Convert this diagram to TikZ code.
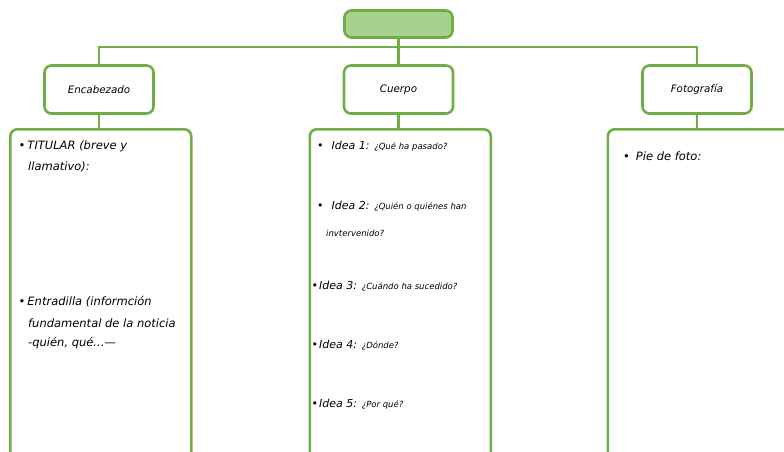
\documentclass[tikz,border=0pt]{standalone}
\usepackage{fontspec}
\setmainfont{DejaVu Sans}
\definecolor{gline}{HTML}{70AD47}
\definecolor{gfill}{HTML}{A9D18E}
\newcommand\qsmall{\fontsize{8.5}{10}\selectfont}
\begin{document}
\begin{tikzpicture}[x=1pt,y=-1pt,
  box/.style={draw=gline,line width=2.6pt,rounded corners=7pt,inner sep=0pt},
  topbox/.style={box,fill=gfill,minimum width=108pt,minimum height=27pt},
  headbox/.style={box,fill=white,minimum width=109pt,minimum height=48pt,font=\itshape\fontsize{10.3}{12}\selectfont},
  bigbox/.style={box,fill=white,anchor=north west,minimum height=340pt},
  conn/.style={draw=gline,line width=2.6pt},
  txt/.style={anchor=west,inner sep=0pt,font=\itshape\fontsize{11.5}{13}\selectfont},
  idea/.style={anchor=west,inner sep=0pt,font=\itshape\fontsize{11}{13}\selectfont},
  qtxt/.style={anchor=west,inner sep=0pt,font=\itshape\qsmall}]
\useasboundingbox (0,0) rectangle (784,452);
\clip (0,0) rectangle (784,452);
\fill[white] (0,0) rectangle (784,452);
\node[topbox] (top) at (398.5,24) {};
\node[headbox] (enc) at (99,89.5) {Encabezado};
\node[headbox] (cue) at (398.5,89.5) {Cuerpo};
\node[headbox] (fot) at (697,89.5) {Fotografía};
\node[bigbox,minimum width=181pt] (b1) at (9,128) {};
\node[bigbox,minimum width=181pt] (b2) at (308.5,128) {};
\node[bigbox,minimum width=200pt] (b3) at (606.5,128) {};
\coordinate (bus) at (398.5,47);
\draw[conn] (enc.north) |- (bus) -| (fot.north);
\draw[conn] (top.south) -- (cue.north);
\draw[conn] (enc.south) -- (enc.south |- b1.north);
\draw[conn] (cue.south) -- (cue.south |- b2.north);
\draw[conn] (fot.south) -- (fot.south |- b3.north);
% left box text
\node[txt] (t1) at (18.5,146) {•\hspace{2pt}TITULAR (breve y};
\node[txt] (t2) at (28,167) {llamativo):};
\node[txt] (t3) at (18.5,302) {•\hspace{2pt}Entradilla (informción};
\node[txt] (t4) at (28,323) {fundamental de la noticia};
\node[txt] (t5) at (28,343) {-quién, qué...—};
% middle box text
\node[idea] (i1) at (317,146) {•\hspace{8pt}Idea 1: {\qsmall ¿Qué ha pasado?}};
\node[idea] (i2) at (317,206) {•\hspace{8pt}Idea 2: {\qsmall ¿Quién o quiénes han}};
\node[qtxt] (i2b) at (326,233) {invtervenido?};
\node[idea] (i3) at (311.5,286) {•\hspace{1pt}Idea 3: {\qsmall ¿Cuándo ha sucedido?}};
\node[idea] (i4) at (311.5,345) {•\hspace{1pt}Idea 4: {\qsmall ¿Dónde?}};
\node[idea] (i5) at (311.5,404) {•\hspace{1pt}Idea 5: {\qsmall ¿Por qué?}};
% right box text
\node[txt] (p1) at (623,156) {•\hspace{6pt}Pie de foto:};
\end{tikzpicture}
\end{document}
